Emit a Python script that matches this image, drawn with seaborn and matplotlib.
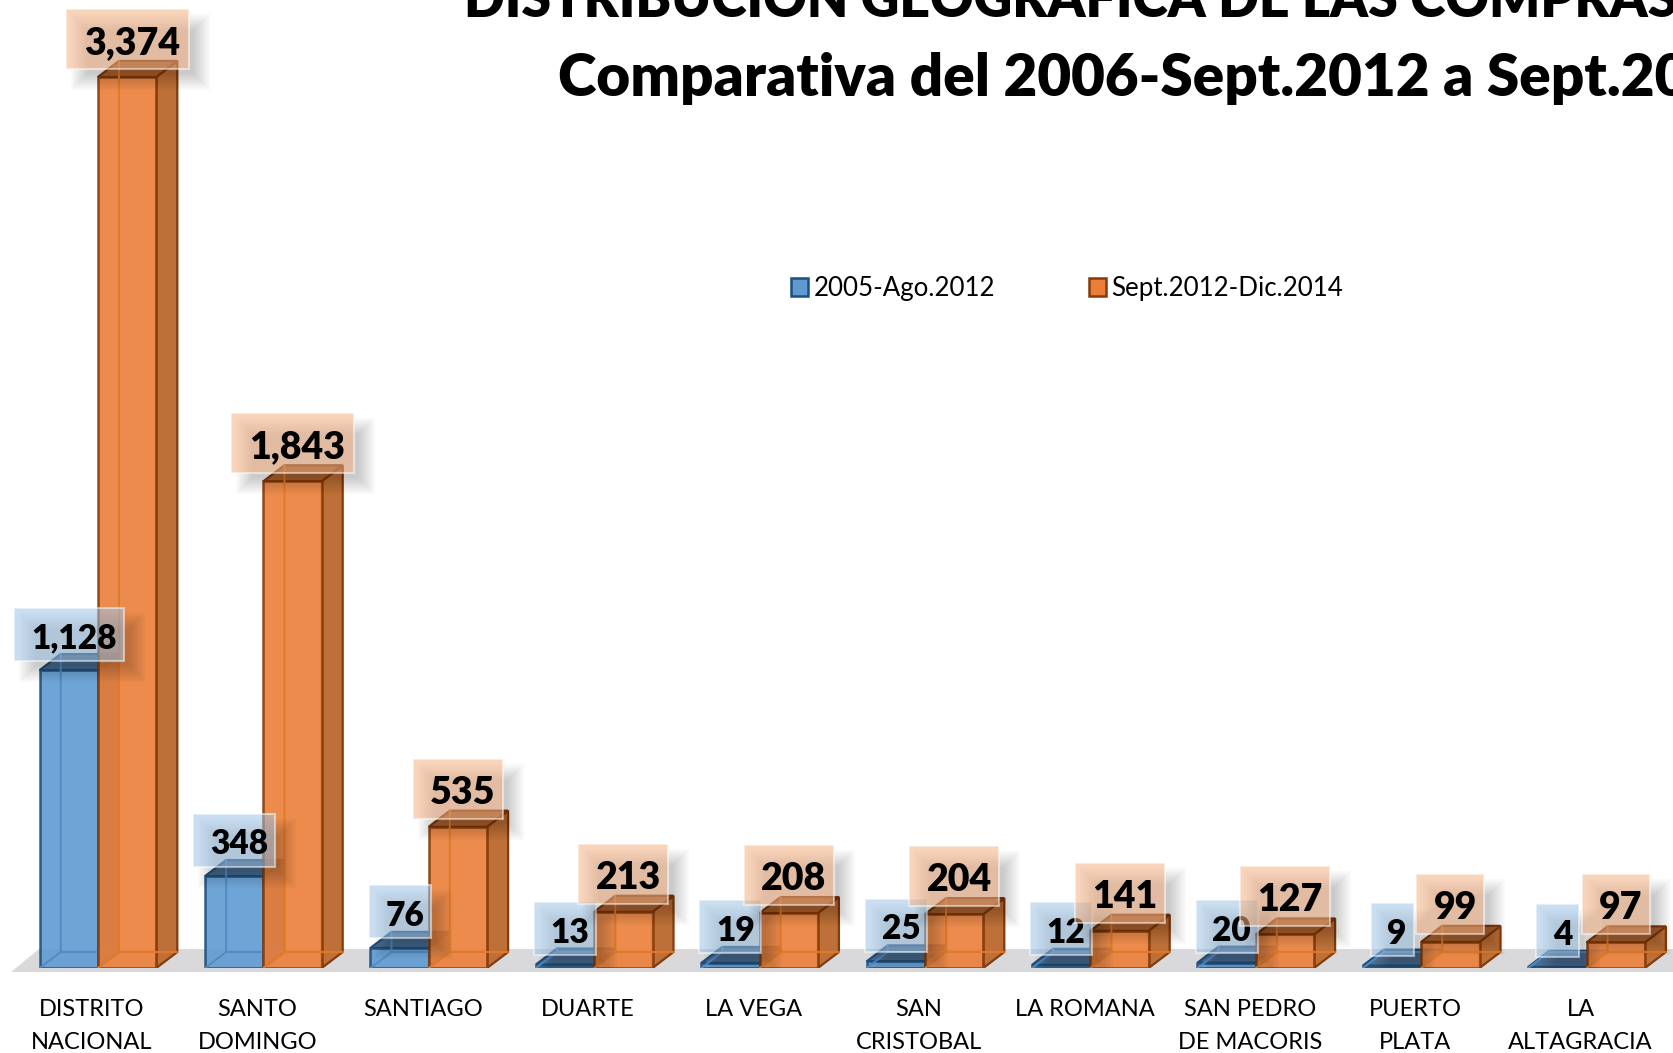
import matplotlib
matplotlib.use("Agg")
import matplotlib.pyplot as plt
import pandas as pd
import seaborn as sns
from matplotlib.patches import Polygon, Rectangle
from matplotlib.transforms import ScaledTranslation

# ==========================================
# DATA
# ==========================================

provincias = ["DISTRITO\nNACIONAL", "SANTO\nDOMINGO", "SANTIAGO", "DUARTE", "LA VEGA",
              "SAN\nCRISTOBAL", "LA ROMANA", "SAN PEDRO\nDE MACORIS", "PUERTO\nPLATA",
              "LA\nALTAGRACIA"]
periodo_a = [1128, 348, 76, 13, 19, 25, 12, 20, 9, 4]
periodo_b = [3374, 1843, 535, 213, 208, 204, 141, 127, 99, 97]
series = ["2005-Ago.2012", "Sept.2012-Dic.2014"]
titulo_1 = "DISTRIBUCIÓN GEOGRÁFICA DE LAS COMPRAS"
titulo_2 = "Comparativa del 2006-Sept.2012 a Sept.2014"

df = pd.DataFrame({
    "provincia": provincias * 2,
    "compras": periodo_a + periodo_b,
    "periodo": [series[0]] * 10 + [series[1]] * 10,
})

# ==========================================
# FIGURE AND SCALES
# ==========================================

sns.set_theme(style="white")
plt.rcParams["font.family"] = ["Lato", "DejaVu Sans"]

W, H = 1673, 1053
BASE = 968          # pixel row of the zero line
PX_X = 165.4        # pixels per category
PX_Y = 0.2641       # pixels per unit

fig = plt.figure(figsize=(W / 100, H / 100), dpi=100)
ax = fig.add_axes([0, (H - BASE) / H, 1, BASE / H])

sns.barplot(data=df, x="provincia", y="compras", hue="periodo", ax=ax,
            palette=["#5f9bd2", "#ea7e38"], hue_order=series, width=0.705, gap=0,
            saturation=1, linewidth=1.8, edgecolor="#1f4e79")

ax.set_xlim(-98 / PX_X, (W - 98) / PX_X)
ax.set_ylim(0, BASE / PX_Y)
ax.set_xlabel("")
ax.set_ylabel("")
ax.yaxis.set_visible(False)
sns.despine(ax=ax, left=True, bottom=True)
ax.patch.set_alpha(0)

# pixel sizes to data units
def ux(px):
    return px / PX_X

def uy(px):
    return px / PX_Y

# ==========================================
# FLOOR
# ==========================================

x_ini = ax.get_xlim()[0]
ax.add_patch(Polygon([(x_ini + ux(11), uy(-4)), (x_ini + ux(39), uy(19)),
                      (ax.get_xlim()[1] + ux(20), uy(19)), (ax.get_xlim()[1], uy(-4))],
                     closed=True, fc="#d9d9db", ec="none", zorder=1, clip_on=False))

# ==========================================
# 3D LOOK AND VALUE BOXES
# ==========================================

DX, DY = ux(21), uy(16)
estilos = [
    dict(edge="#1f4e79", inner="#4f8cc4", side="#4d7ba6", top="#4a6d90", z=2,
         box="#9dc3e6", box_h=53, font=24, up=36, widths={1: 43, 2: 62, 3: 82, 5: 110}),
    dict(edge="#843c0c", inner="#e07a28", side="#bd7038", top="#ad6531", z=3,
         box="#f4b183", box_h=60, font=27, up=38, widths={2: 68, 3: 90, 5: 123}),
]

for cont, st, valores in zip(ax.containers, estilos, [periodo_a, periodo_b]):
    z = st["z"]
    for bar, val in zip(cont, valores):
        x, w, h = bar.get_x(), bar.get_width(), bar.get_height()
        bar.set_edgecolor(st["edge"])
        bar.set_alpha(0.9)
        bar.set_zorder(z + 0.3)

        # back edges seen through the front face
        ax.plot([x, x + DX, x + DX], [0, DY, h + DY], color=st["inner"], lw=1.4, zorder=z + 0.4)
        ax.plot([x + DX, x + w + DX], [DY, DY], color=st["inner"], lw=1.4, zorder=z + 0.4)

        # right side and top
        ax.add_patch(Polygon([(x + w, 0), (x + w + DX, DY), (x + w + DX, h + DY), (x + w, h)],
                             closed=True, fc=st["side"], ec=st["edge"], lw=1.6, zorder=z + 0.2))
        ax.add_patch(Polygon([(x, h), (x + DX, h + DY), (x + w + DX, h + DY), (x + w, h)],
                             closed=True, fc=st["top"], ec=st["edge"], lw=1.6, zorder=z + 0.2))

        # value label box with soft shadow
        etiqueta = f"{val:,}"
        bw = st["widths"][len(etiqueta)]
        bh = st["box_h"]
        cx = x + w / 2
        cy = h + uy(st["up"])
        for grow in range(-8, 10, 2):
            ax.add_patch(Rectangle((cx - ux(bw / 2 + grow) + ux(13), cy - uy(bh / 2 + grow) - uy(13)),
                                   ux(bw + 2 * grow), uy(bh + 2 * grow),
                                   fc="black", ec="none", alpha=0.022, zorder=z + 3))
        ax.add_patch(Rectangle((cx - ux(bw / 2), cy - uy(bh / 2)), ux(bw), uy(bh),
                               fc=st["box"], ec="none", alpha=0.55, zorder=z + 3.1))
        ax.add_patch(Rectangle((cx - ux(bw / 2), cy - uy(bh / 2)), ux(bw), uy(bh),
                               fc="none", ec="white", lw=1.5, alpha=0.5, zorder=z + 3.2))
        ax.text(cx + ux(5), cy - uy(4), etiqueta, ha="center", va="center", fontsize=st["font"],
                fontweight="heavy", color="black", zorder=z + 3.3)

# ==========================================
# CATEGORY LABELS
# ==========================================

ax.tick_params(axis="x", length=0, pad=22, labelsize=17, labelcolor="black")
shift = ScaledTranslation(-6 / 100, 0, fig.dpi_scale_trans)
for lab in ax.get_xticklabels():
    lab.set_linespacing(1.72)
    lab.set_transform(lab.get_transform() + shift)

# ==========================================
# LEGEND
# ==========================================

handles, labels = ax.get_legend_handles_labels()
handles[0].set_edgecolor("#1f4e79")
handles[1].set_edgecolor("#843c0c")
ax.legend(handles, labels, ncol=2, frameon=False, fontsize=18.6, loc="upper left",
          bbox_to_anchor=(791 / W, 1 - 276 / BASE), borderaxespad=0, borderpad=0,
          handlelength=0.66, handleheight=0.66, handletextpad=0.22, columnspacing=3.62,
          labelcolor="black")

# ==========================================
# TITLE
# ==========================================

fig.text(464 / W, 1 - 17 / H, titulo_1, fontsize=38.6, fontweight="heavy", color="black",
         ha="left", va="baseline")
fig.text(558 / W, 1 - 96 / H, titulo_2, fontsize=42, fontweight="heavy", color="black",
         ha="left", va="baseline")

fig.savefig("out.png", dpi=100)
